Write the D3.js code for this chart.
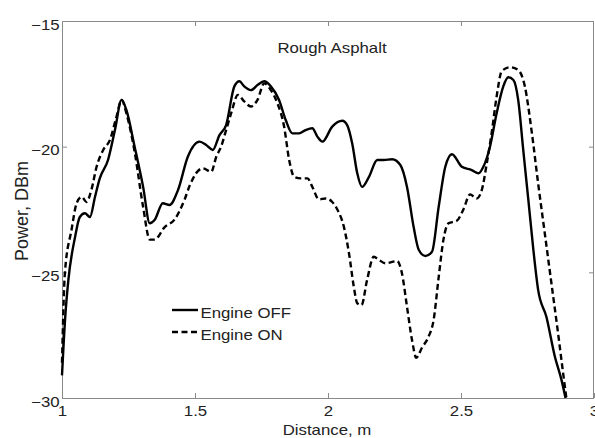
<!DOCTYPE html>
<html>
<head>
<meta charset="utf-8">
<script src="https://cdn.jsdelivr.net/npm/d3@7"></script>
<style>
  body { margin: 0; background: #fff; }
  text { font-family: "Liberation Sans", Arial, sans-serif; fill: #222; }
</style>
</head>
<body>
<div class="chart"></div>
<script>
var offX = [1.000, 1.012, 1.024, 1.049, 1.067, 1.086, 1.105, 1.124, 1.142, 1.173, 1.199, 1.224, 1.242, 1.273, 1.305, 1.330, 1.348, 1.379, 1.404, 1.436, 1.473, 1.517, 1.542, 1.567, 1.592, 1.617, 1.648, 1.667, 1.685, 1.710, 1.735, 1.760, 1.785, 1.816, 1.841, 1.866, 1.891, 1.916, 1.941, 1.960, 1.979, 2.016, 2.054, 2.072, 2.091, 2.110, 2.128, 2.154, 2.185, 2.210, 2.241, 2.272, 2.297, 2.322, 2.341, 2.366, 2.391, 2.416, 2.441, 2.466, 2.503, 2.540, 2.566, 2.584, 2.609, 2.634, 2.659, 2.678, 2.697, 2.715, 2.734, 2.753, 2.772, 2.790, 2.821, 2.853, 2.878, 2.893];
var offY = [-29.1, -26.8, -25.3, -23.6, -22.8, -22.65, -22.8, -22.0, -21.26, -20.53, -19.34, -18.14, -18.54, -20.0, -21.6, -23.05, -22.92, -22.25, -22.32, -21.73, -20.4, -19.8, -19.93, -20.13, -19.54, -19.14, -17.6, -17.4, -17.6, -17.75, -17.55, -17.4, -17.6, -18.14, -18.94, -19.47, -19.47, -19.34, -19.27, -19.6, -19.8, -19.2, -18.97, -19.14, -19.87, -21.06, -21.6, -21.2, -20.53, -20.53, -20.5, -20.73, -21.6, -23.2, -24.1, -24.35, -24.18, -22.4, -20.8, -20.3, -20.8, -20.93, -21.06, -20.8, -20.0, -18.67, -17.6, -17.24, -17.35, -18.14, -20.13, -22.1, -24.1, -25.7, -26.77, -28.36, -29.29, -30.0];

var onX = [1.000, 1.011, 1.036, 1.055, 1.074, 1.092, 1.111, 1.130, 1.155, 1.180, 1.205, 1.224, 1.242, 1.273, 1.305, 1.330, 1.348, 1.386, 1.423, 1.461, 1.480, 1.504, 1.529, 1.561, 1.580, 1.598, 1.617, 1.636, 1.661, 1.685, 1.710, 1.735, 1.760, 1.785, 1.810, 1.835, 1.854, 1.873, 1.898, 1.923, 1.941, 1.966, 1.991, 2.016, 2.035, 2.060, 2.079, 2.097, 2.110, 2.126, 2.147, 2.172, 2.191, 2.216, 2.260, 2.278, 2.297, 2.316, 2.332, 2.353, 2.378, 2.397, 2.416, 2.434, 2.453, 2.484, 2.509, 2.534, 2.559, 2.578, 2.597, 2.615, 2.634, 2.653, 2.684, 2.715, 2.740, 2.765, 2.790, 2.815, 2.840, 2.865, 2.884, 2.896];
var onY = [-28.6, -25.0, -23.3, -22.25, -22.0, -22.2, -21.7, -20.8, -20.13, -19.74, -18.8, -18.14, -18.67, -20.2, -22.4, -23.7, -23.7, -23.2, -22.9, -22.1, -21.55, -21.06, -20.86, -21.0, -20.4, -20.0, -19.34, -18.67, -17.94, -18.2, -18.4, -18.14, -17.48, -17.75, -18.28, -19.2, -20.53, -21.2, -21.26, -21.26, -21.6, -22.1, -22.06, -22.2, -22.5, -23.2, -24.25, -25.57, -26.23, -26.3, -25.3, -24.38, -24.5, -24.64, -24.55, -25.04, -26.37, -27.7, -28.4, -28.0, -27.56, -26.9, -25.2, -23.7, -23.05, -22.95, -22.5, -21.9, -22.06, -21.73, -20.66, -19.47, -18.0, -17.0, -16.84, -16.95, -17.6, -19.34, -21.46, -23.45, -25.44, -27.43, -29.02, -30.0];

var xTicks = [1, 1.5, 2, 2.5, 3];
var yTicks = [-30, -25, -20, -15];
var seriesNames = ["Engine OFF", "Engine ON"];
var chartTitle = "Rough Asphalt";
var xTitle = "Distance, m";
var yTitle = "Power, DBm";

function loadChart(){
  drawPowerChart();
}

function stretch(sel){
  // the picture's lettering is a little wider than normal
  sel.attr("transform", function(){
    var t = d3.select(this);
    return "translate(" + (+t.attr("x") || 0) + "," + (+t.attr("y") || 0) + ") scale(1.2,1)";
  })
  .attr("x", 0).attr("y", 0);
}

function drawPowerChart(){
  var width = 595, height = 438;
  var left = 62, right = 594, top = 21, bottom = 398;

  var svg = d3.select(".chart").append("svg")
              .attr("width", width)
              .attr("height", height);

  var x = d3.scaleLinear().domain([1, 3]).range([left, right]);
  var y = d3.scaleLinear().domain([-30, -15]).range([bottom, top]);

  var axisColor = "#8a8a8a";

  // bottom axis with labels
  var gx = svg.append("g")
              .attr("transform", "translate(0," + bottom + ")")
              .call(d3.axisBottom(x).tickValues(xTicks)
                      .tickSizeInner(-5).tickSizeOuter(0).tickPadding(8.5)
                      .tickFormat(d3.format("")));
  gx.select(".domain").remove();
  gx.selectAll("line").attr("stroke", axisColor);
  gx.selectAll("text").attr("font-size", 14).attr("fill", "#222")
    .each(function(){ d3.select(this).attr("transform", "scale(1.2,1)"); });

  // left axis with labels
  var gy = svg.append("g")
              .attr("transform", "translate(" + left + ",0)")
              .call(d3.axisLeft(y).tickValues(yTicks)
                      .tickSizeInner(-5).tickSizeOuter(0).tickPadding(2)
                      .tickFormat(d3.format("")));
  gy.select(".domain").remove();
  gy.selectAll("line").attr("stroke", axisColor);
  gy.selectAll("text").attr("font-size", 14).attr("fill", "#222")
    .attr("dy", "0.59em")
    .attr("transform", "scale(1.2,1)");

  // top and right ticks, no labels
  var gt = svg.append("g")
              .attr("transform", "translate(0," + top + ")")
              .call(d3.axisTop(x).tickValues(xTicks.slice(1, -1))
                      .tickSizeInner(-5).tickSizeOuter(0).tickFormat(""));
  gt.select(".domain").remove();
  gt.selectAll("line").attr("stroke", axisColor);

  var gr = svg.append("g")
              .attr("transform", "translate(" + right + ",0)")
              .call(d3.axisRight(y).tickValues(yTicks.slice(1, -1))
                      .tickSizeInner(-5).tickSizeOuter(0).tickFormat(""));
  gr.select(".domain").remove();
  gr.selectAll("line").attr("stroke", axisColor);

  // frame
  svg.append("rect")
     .attr("x", left + 0.5)
     .attr("y", top + 0.5)
     .attr("width", right - left - 1)
     .attr("height", bottom - top)
     .attr("fill", "none")
     .attr("stroke", axisColor)
     .attr("stroke-width", 1);

  var offData = offX.map(function(d, i){ return [d, offY[i]]; });
  var onData = onX.map(function(d, i){ return [d, onY[i]]; });

  var line = d3.line()
               .x(function(d){ return x(d[0]); })
               .y(function(d){ return y(d[1]); })
               .curve(d3.curveMonotoneX);

  svg.append("path")
     .attr("d", line(onData))
     .attr("fill", "none")
     .attr("stroke", "#000")
     .attr("stroke-width", 2.4)
     .attr("stroke-dasharray", "6,3.5");

  svg.append("path")
     .attr("d", line(offData))
     .attr("fill", "none")
     .attr("stroke", "#000")
     .attr("stroke-width", 2.4);

  // titles
  var titles = svg.append("g");
  titles.append("text")
        .attr("x", 332).attr("y", 52.5)
        .attr("text-anchor", "middle")
        .attr("font-size", 14)
        .text(chartTitle);
  titles.append("text")
        .attr("x", 327).attr("y", 435)
        .attr("text-anchor", "middle")
        .attr("font-size", 14)
        .text(xTitle);
  titles.selectAll("text").call(stretch);

  svg.append("text")
     .attr("transform", "translate(28,211) rotate(-90)")
     .attr("text-anchor", "middle")
     .attr("font-size", 18)
     .text(yTitle);

  // legend
  var legend = svg.append("g");
  var rows = legend.selectAll("g")
                   .data(seriesNames)
                   .enter()
                   .append("g")
                   .attr("transform", function(d, i){ return "translate(0," + (i * 22) + ")"; });
  rows.append("line")
      .attr("x1", 172).attr("x2", 198)
      .attr("y1", 310).attr("y2", 310)
      .attr("stroke", "#000")
      .attr("stroke-width", 2.4)
      .attr("stroke-dasharray", function(d, i){ return i ? "6,3.5" : null; });
  rows.append("text")
      .attr("x", 200.5).attr("y", 317.5)
      .attr("font-size", 14)
      .text(function(d){ return d; })
      .call(stretch);
}

loadChart();
</script>
</body>
</html>
